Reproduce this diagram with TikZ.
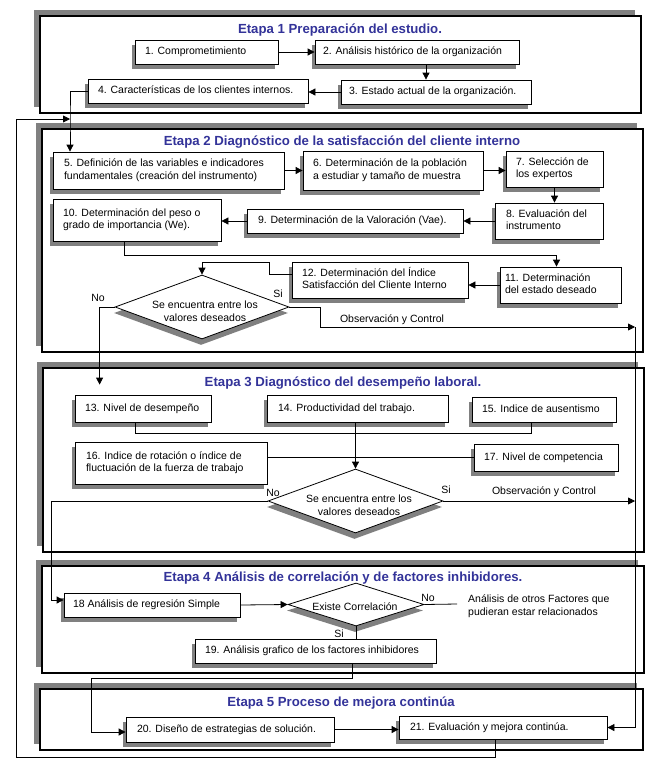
\documentclass[tikz,border=0pt]{standalone}
\usepackage{fontspec}
\setmainfont{Liberation Sans}
\usetikzlibrary{arrows.meta,shapes.geometric,shadows}
\definecolor{sgray}{RGB}{128,128,128}
\definecolor{tblue}{RGB}{51,51,153}
\newcommand\bx[7]{%
 \pgfmathsetmacro\bxcx{(#2+#4)/2}%
 \pgfmathsetmacro\bxcy{(#3+#5)/2}%
 \pgfmathsetmacro\bxw{#4-#2}%
 \pgfmathsetmacro\bxh{#5-#3}%
 \pgfmathsetmacro\bxtw{#4-#2-2*#6}%
 \node[box, minimum width=\bxw pt, minimum height=\bxh pt, inner xsep=#6pt] (#1) at (\bxcx,\bxcy)
   {\makebox[\bxtw pt][l]{\begin{tabular}{@{}l@{}}#7\end{tabular}}};}
\newcommand\stg[5]{%
 \pgfmathsetmacro\bxcx{(#2+#4)/2}%
 \pgfmathsetmacro\bxcy{(#3+#5)/2}%
 \pgfmathsetmacro\bxw{#4-#2}%
 \pgfmathsetmacro\bxh{#5-#3}%
 \node[stage, minimum width=\bxw pt, minimum height=\bxh pt] (#1) at (\bxcx,\bxcy) {};}
\begin{document}
\begin{tikzpicture}[x=1pt,y=-1pt,
  box/.style={draw, line width=0.8pt, fill=white, inner ysep=1pt,
    font=\fontsize{10.5}{12.5}\selectfont,
    drop shadow={shadow xshift=-3pt, shadow yshift=-5pt, opacity=1, fill=sgray}},
  stage/.style={draw, line width=2pt, fill=white, inner sep=0pt,
    drop shadow={shadow xshift=-6.5pt, shadow yshift=6pt, opacity=1, fill=sgray}},
  dia/.style={diamond, draw, line width=0.8pt, fill=white, inner sep=0pt,
    drop shadow={shadow xshift=-1pt, shadow yshift=-6pt, opacity=1, fill=sgray}},
  stitle/.style={font=\fontsize{13.2}{15}\selectfont\bfseries, text=tblue, inner sep=0pt},
  lbl/.style={font=\fontsize{10.5}{12.5}\selectfont, inner sep=0pt, align=center},
  lbll/.style={font=\fontsize{10.5}{13.5}\selectfont, inner sep=0pt, align=left},
  ln/.style={line width=0.8pt},
  arr/.style={ln, -{Triangle[length=7pt,width=7pt]}}]
\useasboundingbox (0,0) rectangle (657,766);
% stages
\stg{s1}{40}{16}{641}{113}
\stg{s2}{42}{129}{643}{352}
\stg{s3}{43}{368}{644}{552}
\stg{s4}{42}{566}{644}{673}
\stg{s5}{40}{689}{643}{750}
\node[stitle] (t1) at (340,30) {Etapa 1 Preparación del estudio.};
\node[stitle] (t2) at (342,142) {Etapa 2 Diagnóstico de la satisfacción del cliente interno};
\node[stitle] (t3) at (343,383) {Etapa 3 Diagnóstico del desempeño laboral.};
\node[stitle] (t4) at (343,578) {Etapa 4 Análisis de correlación y de factores inhibidores.};
\node[stitle] (t5) at (341,703) {Etapa 5 Proceso de mejora continúa};
% boxes
\bx{b1}{135}{40}{278}{64}{10}{1. Comprometimiento}
\bx{b2}{315}{40}{519}{64}{8}{2. Análisis histórico de la organización}
\bx{b3}{341}{80}{531}{104}{8}{3. Estado actual de la organización.}
\bx{b4}{88}{79}{308}{103}{10}{4. Características de los clientes internos.}
\bx{b5}{53}{152}{284}{189}{11}{5. Definición de las variables e indicadores\\fundamentales (creación del instrumento)}
\bx{b6}{303}{151}{483}{190}{10}{6. Determinación de la población\\a estudiar y tamaño de muestra}
\bx{b7}{506}{151}{603}{187}{10}{7. Selección de\\los expertos}
\bx{b8}{495}{203}{603}{239}{11}{8. Evaluación del\\instrumento}
\bx{b9}{247}{209}{463}{233}{11}{9. Determinación de la Valoración (Vae).}
\bx{b10}{53}{199}{221}{241}{10}{10. Determinación del peso o\\grado de importancia (We).}
\bx{b11}{500}{267}{621}{303}{5}{11. Determinación\\del estado deseado}
\bx{b12}{292}{262}{468}{298}{10}{12. Determinación del Índice\\Satisfacción del Cliente Interno}
\bx{b13}{75}{395}{211}{422}{10}{13. Nivel de desempeño}
\bx{b14}{267}{395}{448}{422}{11}{14. Productividad del trabajo.}
\bx{b15}{472}{397}{616}{422}{10}{15. Indice de ausentismo}
\bx{b16}{75}{442}{267}{484}{11}{16. Indice de rotación o índice de\\fluctuación de la fuerza de trabajo}
\bx{b17}{474}{444}{618}{471}{10}{17. Nivel de competencia}
\bx{b18}{64}{593}{240}{617}{9}{18 Análisis de regresión Simple}
\bx{b19}{195}{639}{436}{663}{10}{19. Análisis grafico de los factores inhibidores}
\bx{b20}{126}{717}{334}{742}{11}{20. Diseño de estrategias de solución.}
\bx{b21}{399}{716}{607}{739}{11}{21. Evaluación y mejora continúa.}
% diamonds
\node[dia, minimum width=174pt, minimum height=64pt] (d1) at (202,307) {};
\node[lbl] (d1t) at (205,311) {Se encuentra entre los\\valores deseados};
\node[dia, minimum width=175pt, minimum height=64pt] (d2) at (355.5,501) {};
\node[lbl] (d2t) at (359,505) {Se encuentra entre los\\valores deseados};
\node[dia, minimum width=136pt, minimum height=43pt] (d3) at (356,604.5) {};
\node[lbl] (d3t) at (355,607) {Existe Correlación};
% labels
\node[lbl] (no1) at (98,298) {No};
\node[lbl] (si1) at (278,294) {Si};
\node[lbl] (oc1) at (392,320) {Observación y Control};
\node[lbl] (no2) at (273,493) {No};
\node[lbl] (si2) at (446,490) {Si};
\node[lbl] (oc2) at (544,492) {Observación y Control};
\node[lbl] (no3) at (428,598) {No};
\node[lbl] (si3) at (339,634) {Si};
\node[lbll, anchor=west] (fac) at (468,606) {Análisis de otros Factores que\\pudieran estar relacionados};
% helper coordinates
\coordinate (j1) at (70,119);
\coordinate (lp) at (16,757);
\coordinate (rv1) at (635,327);
\coordinate (m1) at (91,678);
\coordinate (c255) at (0,255);
\coordinate (f1) at (457,604);
% connectors stage 1
\draw[arr] (b1.east) -- (b2.west);
\draw[arr] ([xshift=9pt]b2.south) -- ([xshift=9pt]b2.south |- b3.north);
\draw[arr] (b3.west) -- (b3.west -| b4.east);
\draw[arr] (b4.west) -| (j1) -- (j1 |- b5.north);
\draw[arr] ([xshift=-8pt]b21.south) |- (lp) |- (j1);
% stage 2
\draw[arr] (b5.east) -- (b5.east -| b6.west);
\draw[arr] (b6.east) -- (b6.east -| b7.west);
\draw[arr] (b7.south) -- (b7.south |- b8.north);
\draw[arr] (b8.west) -- (b8.west -| b9.east);
\draw[arr] (b9.west) -- (b9.west -| b10.east);
\draw[arr] ([xshift=-13pt]b10.south) -- ([xshift=-13pt]b10.south |- c255) -| ([xshift=-4pt]b11.north);
\draw[arr] (b11.west) -- (b11.west -| b12.east);
\draw[arr] ([yshift=6pt]b12.west) -- ++(-22,0) |- ([yshift=12pt]d1.north) -- (d1.north);
\draw[arr] (d1.west) -| ([shift={(25pt,10pt)}]b13.north west);
\draw[arr] (d1.east) -- ++(31,0) |- (rv1);
\draw[arr] (rv1) |- (b21.east);
% stage 3
\draw[ln] ([xshift=-8pt]b13.south) |- ([shift={(-13pt,-11pt)}]b15.south) -- ([xshift=-13pt]b15.south);
\draw[arr] (b14.south -| d2.north) -- (d2.north);
\draw[ln] (b17.west -| b16.east) -- (b17.west);
\draw[arr] (d2.west) -- ++(-216,0) |- ([yshift=5pt]b18.west);
\draw[arr] (d2.east) -- (d2.east -| rv1);
% stage 4
\draw[arr] (b18.east) -- (d3.west);
\draw[ln] (d3.east) -- (f1);
\draw[ln] (d3.south) -- (d3.south |- b19.north);
\draw[arr] ([xshift=36.5pt]b19.south) |- (m1) |- ([yshift=-2.5pt]b20.west);
% stage 5
\draw[arr] (b20.east) -- (b20.east -| b21.west);
\end{tikzpicture}
\end{document}
